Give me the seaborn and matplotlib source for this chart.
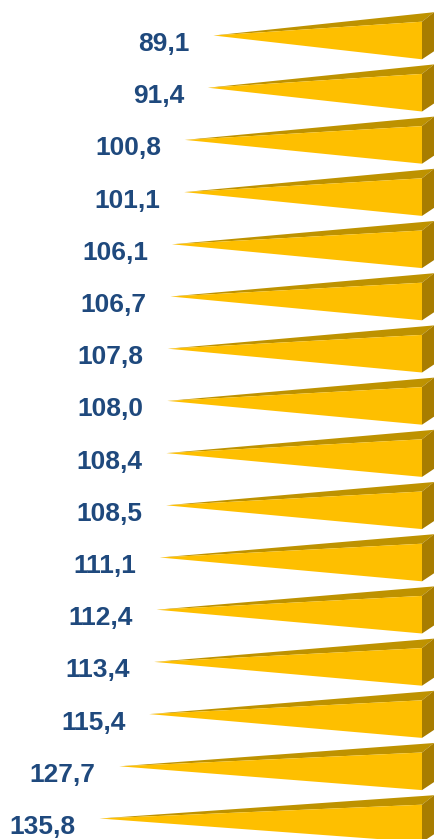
import matplotlib
matplotlib.use("Agg")
import matplotlib.pyplot as plt
import seaborn as sns
import pandas as pd

categories = [f"Item {i}" for i in range(1, 17)]
values = [89.1, 91.4, 100.8, 101.1, 106.1, 106.7, 107.8, 108.0,
          108.4, 108.5, 111.1, 112.4, 113.4, 115.4, 127.7, 135.8]
value_labels = ["89,1", "91,4", "100,8", "101,1", "106,1", "106,7", "107,8", "108,0",
                "108,4", "108,5", "111,1", "112,4", "113,4", "115,4", "127,7", "135,8"]

W, H = 434, 839
PX_PER_UNIT = 2.44
ROW_PX = 52.2
BASE_X_PX = 422
TIP_X0_PX = 213.5
TIP_Y0_PX = 35.5
BASELINE = values[0] - (BASE_X_PX - TIP_X0_PX) / PX_PER_UNIT

FRONT = "#FEBF00"
TOP = "#BE9200"
SIDE = "#A87D00"
TEXT = "#1F497D"

sns.set_theme(style="white")
plt.rcParams["font.family"] = ["Liberation Sans", "DejaVu Sans"]

fig = plt.figure(figsize=(W / 100, H / 100), dpi=100, facecolor="white")
ax = fig.add_axes([0, 0, 1, 1])
df = pd.DataFrame({"category": categories, "value": values})
sns.barplot(data=df, x="value", y="category", ax=ax, orient="h", width=0.7,
            color=FRONT, errorbar=None)

# x pixel p = BASE_X_PX - PX_PER_UNIT * (v - BASELINE)
ax.set_xlim(BASELINE + BASE_X_PX / PX_PER_UNIT, BASELINE - (W - BASE_X_PX) / PX_PER_UNIT)
ax.set_ylim((H - TIP_Y0_PX) / ROW_PX, -TIP_Y0_PX / ROW_PX)
ax.axis("off")


def dx(px):
    return -px / PX_PER_UNIT


def dy(px):
    return px / ROW_PX


for patch, label in zip(list(ax.patches), value_labels):
    v = patch.get_width()
    yc = patch.get_y() + patch.get_height() / 2
    patch.set_visible(False)
    b = BASELINE
    top_y = yc + dy(-13.8)
    bot_y = yc + dy(23.8)
    # rear (top) face, front face, end cap of the wedge
    ax.fill([v, b, b + dx(12)], [yc, top_y, yc + dy(-23.3)], facecolor=TOP, edgecolor="none", zorder=2)
    ax.fill([b, b + dx(12), b + dx(12), b],
            [top_y, yc + dy(-23.3), yc + dy(15.8), bot_y], facecolor=SIDE, edgecolor="none", zorder=2)
    ax.fill([v, b, b], [yc, top_y, bot_y], facecolor=FRONT, edgecolor="none", zorder=3)
    ax.annotate(label, xy=(v, yc), xytext=(-24 * 0.72, -8.5 * 0.72),
                textcoords="offset points", ha="right", va="center",
                color=TEXT, fontweight="bold", fontsize=19)

fig.savefig("out.png", dpi=100, facecolor="white")
